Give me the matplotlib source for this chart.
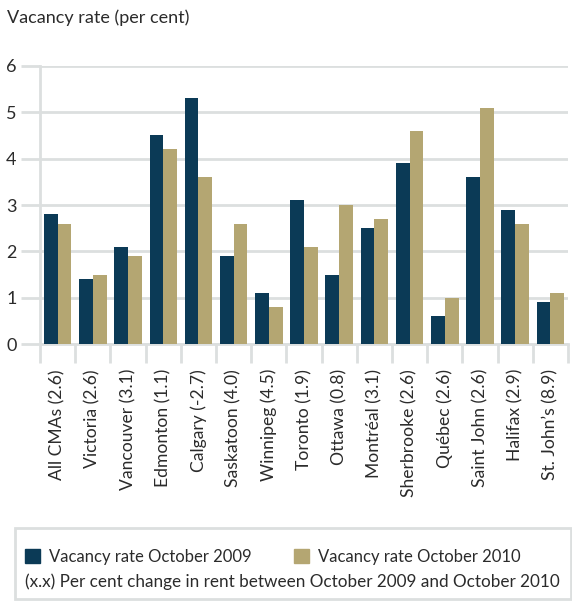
import numpy as np
import matplotlib.pyplot as plt
from matplotlib.patches import Rectangle, Patch

# Data
cities = ['All CMAs (2.6)', 'Victoria (2.6)', 'Vancouver (3.1)', 'Edmonton (1.1)',
          'Calgary (-2.7)', 'Saskatoon (4.0)', 'Winnipeg (4.5)', 'Toronto (1.9)',
          'Ottawa (0.8)', 'Montréal (3.1)', 'Sherbrooke (2.6)', 'Québec (2.6)',
          'Saint John (2.6)', 'Halifax (2.9)', 'St. John’s (8.9)']
rate_2009 = [2.8, 1.4, 2.1, 4.5, 5.3, 1.9, 1.1, 3.1, 1.5, 2.5, 3.9, 0.6, 3.6, 2.9, 0.9]
rate_2010 = [2.6, 1.5, 1.9, 4.2, 3.6, 2.6, 0.8, 2.1, 3.0, 2.7, 4.6, 1.0, 5.1, 2.6, 1.1]
yticks = [0, 1, 2, 3, 4, 5, 6]

navy = '#0b3a56'
khaki = '#b4a672'
grid = '#dcdfdf'
txt = '#2b2b2b'

plt.rcParams['font.family'] = ['Lato', 'DejaVu Sans']

fig = plt.figure(figsize=(5.72, 6.01), dpi=100)
ax = fig.add_axes([0.070, 0.4276, 0.923, 0.4626])

x = np.arange(len(cities))
w = 0.39
ax.bar(x - w / 2, rate_2009, w, color=navy, zorder=3)
ax.bar(x + w / 2, rate_2010, w, color=khaki, zorder=3)

ax.set_xlim(-0.5, len(cities) - 0.5)
ax.set_ylim(0, 6)
ax.set_yticks(yticks)
ax.yaxis.grid(True, color=grid, linewidth=2, zorder=0)
ax.tick_params(axis='y', length=14, width=2, color=grid, labelsize=13,
               labelcolor=txt, pad=3)

# category dividers as x ticks, labels at centres
ax.set_xticks(np.arange(len(cities) + 1) - 0.5)
ax.set_xticklabels([])
ax.set_xticks(x, minor=True)
ax.set_xticklabels(cities, minor=True, rotation=90, fontsize=12.6, color=txt)
ax.tick_params(axis='x', which='major', length=14, width=2, color=grid)
ax.tick_params(axis='x', which='minor', length=0, pad=18)

for s in ['top', 'right']:
    ax.spines[s].set_visible(False)
for s in ['left', 'bottom']:
    ax.spines[s].set_color(grid)
    ax.spines[s].set_linewidth(2)

fig.text(0.012, 0.962, 'Vacancy rate (per cent)', fontsize=13, color=txt)

# legend box
fig.patches.append(Rectangle((0.026, 0.003), 0.972, 0.118, transform=fig.transFigure,
                             fill=False, edgecolor=grid, linewidth=2))
handles = [Patch(color=navy, label='Vacancy rate October 2009'),
           Patch(color=khaki, label='Vacancy rate October 2010')]
fig.legend(handles=handles, loc='center left', bbox_to_anchor=(0.018, 0.073),
           ncol=2, frameon=False, fontsize=12, handlelength=0.9, handleheight=0.9,
           handletextpad=0.55, columnspacing=2.5, labelcolor=txt)
fig.text(0.043, 0.032, '(x.x) Per cent change in rent between October 2009 and October 2010',
         fontsize=12.3, color=txt, va='center')

fig.savefig('out.png', dpi=100)
